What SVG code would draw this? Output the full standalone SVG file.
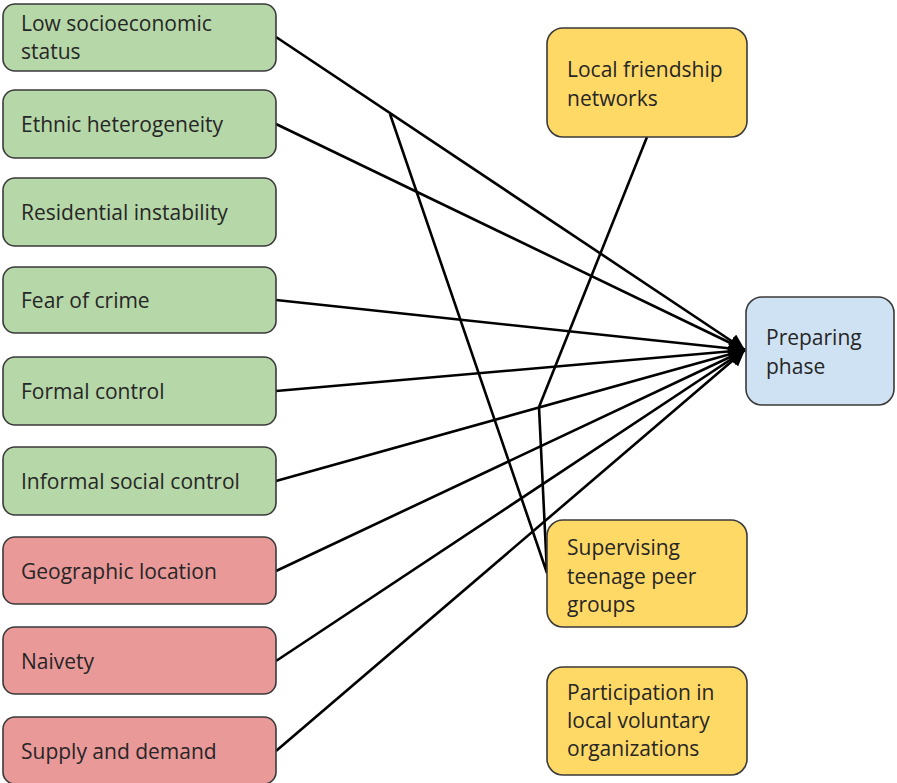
<svg xmlns="http://www.w3.org/2000/svg" width="897" height="783" viewBox="0 0 897 783">
<style>
.box{stroke:#3a3a3a;stroke-width:1.6}
.g{fill:#b6d7a8}
.r{fill:#ea9999}
.y{fill:#ffd966}
.b{fill:#cfe2f3}
text{font-family:"Open Sans","Liberation Sans",sans-serif;font-size:21px;fill:#262626}
.c line,.c polyline{stroke:#000;stroke-width:2.6;fill:none}
</style>
<defs>
<marker id="ah" markerUnits="userSpaceOnUse" markerWidth="18" markerHeight="16" refX="16" refY="8" orient="auto">
<path d="M0,0 L16,8 L0,16 z" fill="#000"/>
</marker>
</defs>
<rect width="897" height="783" fill="#fff"/>
<g class="c" id="connectors">
<line x1="276" y1="37" x2="745" y2="350" marker-end="url(#ah)"/>
<line x1="276" y1="124" x2="745" y2="350" marker-end="url(#ah)"/>
<line x1="276" y1="300" x2="745" y2="350" marker-end="url(#ah)"/>
<line x1="276" y1="391" x2="745" y2="350" marker-end="url(#ah)"/>
<line x1="276" y1="481" x2="745" y2="350" marker-end="url(#ah)"/>
<line x1="276" y1="571" x2="745" y2="350" marker-end="url(#ah)"/>
<line x1="276" y1="661" x2="745" y2="350" marker-end="url(#ah)"/>
<line x1="276" y1="751" x2="745" y2="350" marker-end="url(#ah)"/>
<line x1="647" y1="137" x2="539" y2="407"/>
<polyline points="390,114 547,573 539,407"/>
</g>
<g id="n1"><rect class="box g" x="3" y="4" width="273" height="67" rx="12"/><text x="21" y="31">Low socioeconomic</text><text x="21" y="59">status</text></g>
<g id="n2"><rect class="box g" x="3" y="90" width="273" height="68" rx="12"/><text x="21" y="132">Ethnic heterogeneity</text></g>
<g id="n3"><rect class="box g" x="3" y="178" width="273" height="68" rx="12"/><text x="21" y="220">Residential instability</text></g>
<g id="n4"><rect class="box g" x="3" y="267" width="273" height="66" rx="12"/><text x="21" y="308">Fear of crime</text></g>
<g id="n5"><rect class="box g" x="3" y="357" width="273" height="68" rx="12"/><text x="21" y="399">Formal control</text></g>
<g id="n6"><rect class="box g" x="3" y="447" width="273" height="68" rx="12"/><text x="21" y="489">Informal social control</text></g>
<g id="n7"><rect class="box r" x="3" y="537" width="273" height="67" rx="12"/><text x="21" y="579">Geographic location</text></g>
<g id="n8"><rect class="box r" x="3" y="627" width="273" height="67" rx="12"/><text x="21" y="669">Naivety</text></g>
<g id="n9"><rect class="box r" x="3" y="717" width="273" height="67" rx="12"/><text x="21" y="759">Supply and demand</text></g>
<g id="n10"><rect class="box y" x="547" y="28" width="200" height="109" rx="16"/><text x="567" y="77">Local friendship</text><text x="567" y="106">networks</text></g>
<g id="n11"><rect class="box y" x="547" y="520" width="200" height="107" rx="16"/><text x="567" y="555">Supervising</text><text x="567" y="584">teenage peer</text><text x="567" y="612">groups</text></g>
<g id="n12"><rect class="box y" x="547" y="667" width="200" height="108" rx="16"/><text x="567" y="700">Participation in</text><text x="567" y="728">local voluntary</text><text x="567" y="756">organizations</text></g>
<g id="n13"><rect class="box b" x="746" y="297" width="148" height="108" rx="16"/><text x="766" y="345">Preparing</text><text x="766" y="374">phase</text></g>
</svg>
